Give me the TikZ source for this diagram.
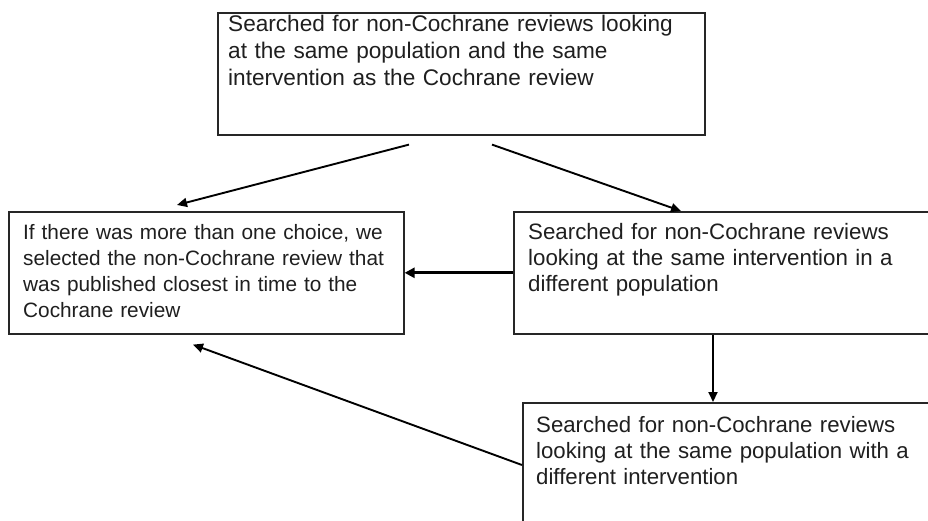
\documentclass[tikz,border=0pt]{standalone}
\usepackage{fontspec}
\setmainfont{Liberation Sans}
\usetikzlibrary{arrows.meta,calc}
\begin{document}
\begin{tikzpicture}[x=1pt,y=-1pt,
  boxshape/.style={draw=black!85, line width=1.6pt, rectangle, inner sep=0pt, anchor=north west},
  boxtext/.style={anchor=base west, inner sep=0pt, text width=520pt, align=left,
    font=\fontsize{22}{26}\selectfont, text=black!88},
  conn/.style={line width=1.9pt, draw=black, -{Triangle[length=10pt,width=9pt]}},
  thickconn/.style={line width=3pt, draw=black, -{Triangle[length=10pt,width=10pt]}}]
\useasboundingbox (0,0) rectangle (928,520);
\clip (0,0) rectangle (928,520);
\fill[white] (0,0) rectangle (928,520);

% boxes
\node[boxshape, minimum width=487pt, minimum height=122pt] (topbox) at (217,12) {};
\node[boxshape, minimum width=395pt, minimum height=122pt] (leftbox) at (8,211) {};
\node[boxshape, minimum width=460pt, minimum height=122pt] (rightbox) at (513,211) {};
\node[boxshape, minimum width=460pt, minimum height=160pt] (botbox) at (522,402) {};

% texts
\node[boxtext, font=\fontsize{22.6}{27}\selectfont] (toptext) at ($(topbox.north west)+(11,19)$)
  {Searched for non-Cochrane reviews looking\\at the same population and the same\\intervention as the Cochrane review};
\node[boxtext, font=\fontsize{20.8}{26}\selectfont] (lefttext) at ($(leftbox.north west)+(15,28)$)
  {If there was more than one choice, we\\selected the non-Cochrane review that\\was published closest in time to the\\Cochrane review};
\node[boxtext, font=\fontsize{22.3}{26}\selectfont] (righttext) at ($(rightbox.north west)+(15,28)$)
  {Searched for non-Cochrane reviews\\looking at the same intervention in a\\different population};
\node[boxtext, font=\fontsize{22.2}{26}\selectfont] (bottext) at ($(botbox.north west)+(14,30)$)
  {Searched for non-Cochrane reviews\\looking at the same population with a\\different intervention};

% connector end points
\coordinate (a1s) at ($(topbox.south west)+(192,9)$);
\coordinate (a1e) at ($(leftbox.north west)+(169,-6)$);
\coordinate (a2s) at ($(topbox.south west)+(275,9)$);
\coordinate (a2e) at ($(rightbox.north west)+(168,0)$);
\coordinate (a4s) at ($(rightbox.south west)+(200,0)$);
\coordinate (a4e) at ($(botbox.north west)+(191,0)$);
\coordinate (a5s) at ($(botbox.north west)+(0,63)$);
\coordinate (a5e) at ($(leftbox.south west)+(185,10)$);

% connectors
\draw[conn] (a1s) -- (a1e);
\draw[conn] (a2s) -- (a2e);
\draw[thickconn] (rightbox.west) -- (leftbox.east);
\draw[conn] (a4s) -- (a4e);
\draw[conn] (a5s) -- (a5e);
\end{tikzpicture}
\end{document}
